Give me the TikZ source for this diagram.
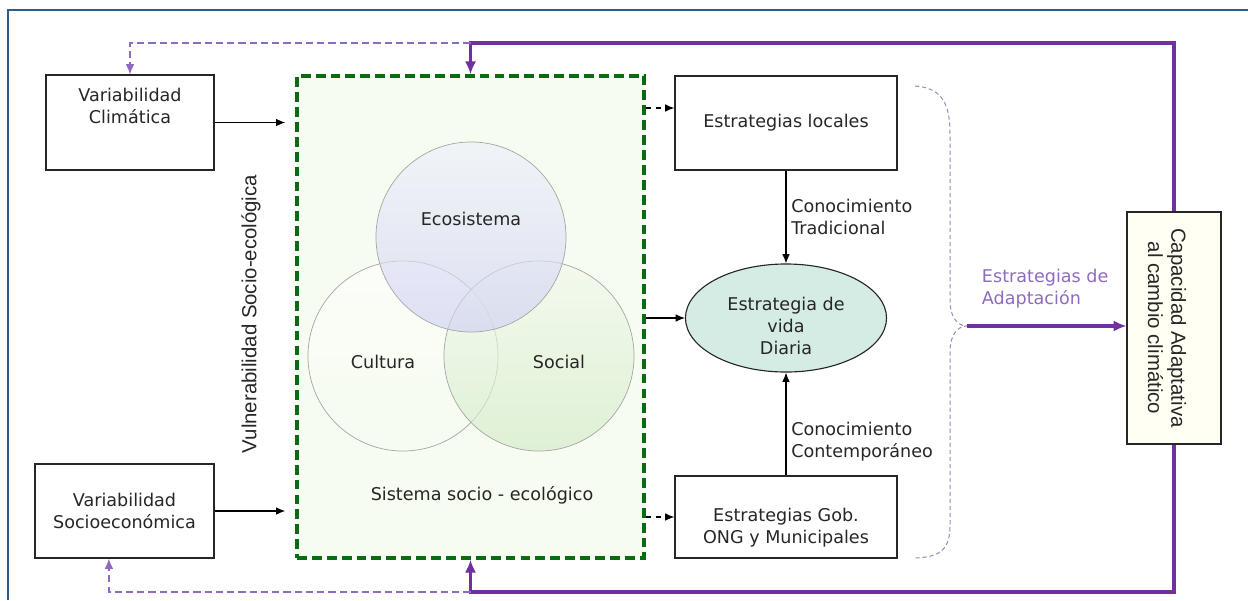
\documentclass[tikz,border=0pt]{standalone}
\usepackage{fontspec}
\setmainfont{DejaVu Sans}
\newfontfamily\arialfont{Liberation Sans}
\usetikzlibrary{arrows.meta,positioning,shapes.geometric}

\definecolor{marcoazul}{HTML}{2E5D8A}
\definecolor{verdesis}{HTML}{0B6B12}
\definecolor{fondosis}{HTML}{F6FCEF}
\definecolor{morado}{HTML}{7030A0}
\definecolor{moradoclaro}{HTML}{8F6BC0}
\definecolor{llavegris}{HTML}{9A88B5}
\definecolor{fondoelipse}{HTML}{D5ECE4}
\definecolor{ecoarriba}{HTML}{EEF0FB}
\definecolor{ecoabajo}{HTML}{CFD2F3}
\definecolor{socarriba}{HTML}{F2F9EE}
\definecolor{socabajo}{HTML}{D3EBC8}
\definecolor{fondocap}{HTML}{FFFFF3}
\definecolor{textogris}{HTML}{262626}

\begin{document}
\begin{tikzpicture}[x=0.025cm,y=-0.025cm,>={Latex[length=2.3mm,width=1.9mm]},font=\fontsize{12.5}{15.6}\selectfont,text=textogris,
caja/.style={draw=black!85,line width=0.8pt,inner sep=0pt,align=center},
sistema/.style={draw=verdesis,fill=fondosis,line width=2.4pt,dash pattern=on 7pt off 3.6pt,inner sep=0pt,minimum width=8.675cm,minimum height=12.05cm},
circulo/.style={circle,draw=gray!70,line width=0.5pt,fill opacity=0.65,inner sep=0pt,minimum size=4.75cm},
flecha/.style={->,draw=black,line width=0.8pt},
discont/.style={dash pattern=on 4pt off 3pt},
lazo/.style={->,draw=morado,line width=2.8pt,>={Latex[length=3.2mm,width=2.8mm]}},
lazofino/.style={->,draw=moradoclaro,line width=1pt,dash pattern=on 5pt off 3pt,>={Latex[length=2.6mm,width=2.2mm]}},
llave/.style={draw=llavegris,line width=0.7pt,dash pattern=on 3pt off 2pt}]

\useasboundingbox (0,0) rectangle (1248,600);
\draw[marcoazul,line width=1pt] (8,600) -- (8,10) -- (1248,10);

% sistema socio-ecologico
\node[sistema] (sys) at (470.5,317) {};
\node[circulo,top color=white,bottom color=fondosis] (cul) at (403,356) {};
\node[circulo,top color=socarriba,bottom color=socabajo] (soc) at (539,356) {};
\node[circulo,top color=ecoarriba,bottom color=ecoabajo] (eco) at (471,237) {};
\node (ecotxt) at (471,219) {Ecosistema};
\node (cultxt) at (383,362) {Cultura};
\node (soctxt) at (559,362) {Social};
\node (systxt) at (482,495) {Sistema socio - ecológico};
\node[rotate=90,font=\arialfont\fontsize{14.5}{16}\selectfont] (vuln) at (251,314) {Vulnerabilidad Socio-ecológica};

% variabilidad
\node[caja,minimum width=4.2cm,minimum height=2.375cm] (clim) at (130,122.5) {};
\node[align=center] (climtxt) at (130,106) {Variabilidad\\Climática};
\node[caja,minimum width=4.475cm,minimum height=2.35cm] (socio) at (124.5,511) {Variabilidad\\Socioeconómica};

% estrategias
\node[caja,minimum width=5.55cm,minimum height=2.35cm] (loc) at (786,123) {Estrategias locales};
\node[ellipse,draw=black!85,line width=0.8pt,fill=fondoelipse,inner sep=0pt,minimum width=5.025cm,minimum height=2.7cm] (diaria) at (786,318) {};
\node[align=center] (diariatxt) at (786,326) {Estrategia de\\vida\\Diaria};
\node[caja,minimum width=5.55cm,minimum height=2.05cm] (gob) at (786,517) {};
\node[align=center] (gobtxt) at (786,528) {Estrategias Gob.\\ONG y Municipales};

% capacidad adaptativa
\node[caja,fill=fondocap,minimum width=2.35cm,minimum height=5.8cm] (cap) at (1174,328) {};
\node[rotate=-90,align=center,font=\arialfont\fontsize{14.5}{16.5}\selectfont] (captxt) at (1167,328) {Capacidad Adaptativa\\al cambio climático};

\coordinate (lociz) at ([yshift=0.375cm]loc.west);
\coordinate (punta) at (967,326);
\coordinate (arriba) at (sys.north |- 0,43);
\coordinate (abajo) at (sys.south |- 0,592);

\draw[flecha,shorten >=0.25cm] (clim.east) -- (clim.east -| sys.west);
\draw[flecha,shorten >=0.25cm] (socio.east) -- (socio.east -| sys.west);
\draw[flecha,discont] (sys.east |- lociz) -- (lociz);
\draw[flecha] (sys.east |- diaria.west) -- (diaria.west);
\draw[flecha,discont] (sys.east |- gob.west) -- (gob.west);
\draw[flecha] (loc.south) -- node[right,align=left] {Conocimiento\\Tradicional} (diaria.north);
\draw[flecha] (gob.north) -- node[right,align=left,pos=0.33] {Conocimiento\\Contemporáneo} (diaria.south);

% llave
\draw[llave] (915,86) .. controls (945,88) and (950,108) .. (950,135) -- (950,300) .. controls (950,318) and (958,326) .. (punta)
  .. controls (958,326) and (950,334) .. (950,352) -- (950,525) .. controls (950,550) and (940,557) .. (915,558);
\draw[lazo] (punta) -- (cap.west |- punta);
\node[anchor=west,align=left,text=moradoclaro] (adapt) at (977,289) {Estrategias de\\Adaptación};

% retroalimentacion
\draw[lazo] (cap.north) |- (arriba) -- (sys.north);
\draw[lazo] (cap.south) |- (abajo) -- (sys.south);
\draw[lazofino] (arriba) -| (clim.north);
\draw[lazofino] (abajo) -| ([xshift=-0.39cm]socio.south);

\end{tikzpicture}
\end{document}
